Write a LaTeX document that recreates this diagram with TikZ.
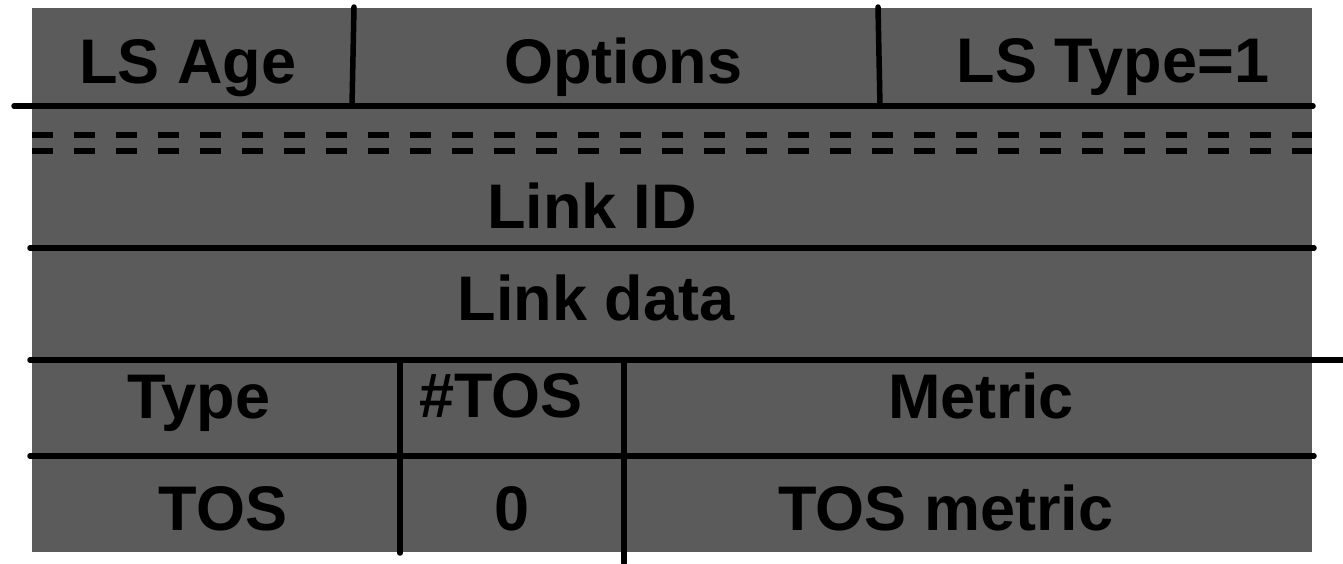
\documentclass[tikz,border=0pt]{standalone}
\usepackage{fontspec}
\setmainfont{Liberation Sans}
\definecolor{cellgray}{RGB}{91,91,91}
\begin{document}
\begin{tikzpicture}[x=1pt,y=-1pt,
  rule/.style={line width=5.5pt, line cap=round, black},
  dashrule/.style={line width=6pt, black, dash pattern=on 21pt off 21pt},
  field/.style={inner sep=0pt, anchor=base, text=black,
                font=\fontsize{63}{70}\selectfont\bfseries}]
\useasboundingbox (0,0) rectangle (1343,563);

% LSA body
\fill[cellgray] (32,8) rectangle (1312,552);

% header row
\draw[rule] (14,106) -- (1313,106);
\draw[rule] (354,7) -- (352,106);
\draw[rule] (878,7) -- (880,106);

% elided header fields
\draw[dashrule] (32,135) -- (1312,135);
\draw[dashrule] (32,151) -- (1312,151);

% link rows
\draw[rule] (30,248) -- (1314,248);
\draw[rule] (30,360) -- (1343,360);
\draw[rule] (30,456) -- (1314,456);
\draw[rule] (400,360) -- (400,553);
\draw[rule] (624,360) -- (624,563);

% field labels
\node[field] (age)     at (188,83)  {LS Age};
\node[field] (opts)    at (623,83)  {Options};
\node[field] (lstype)  at (1113,82) {LS Type=1};
\node[field] (linkid)  at (592,228) {Link ID};
\node[field] (linkdat) at (596,320) {Link data};
\node[field] (type)    at (199,418) {Type};
\node[field] (ntos)    at (501,417) {\#TOS};
\node[field] (metric)  at (981,418) {Metric};
\node[field] (tos)     at (223,530) {TOS};
\node[field] (zero)    at (512,530) {0};
\node[field] (tosm)    at (946,530) {TOS metric};
\end{tikzpicture}
\end{document}
